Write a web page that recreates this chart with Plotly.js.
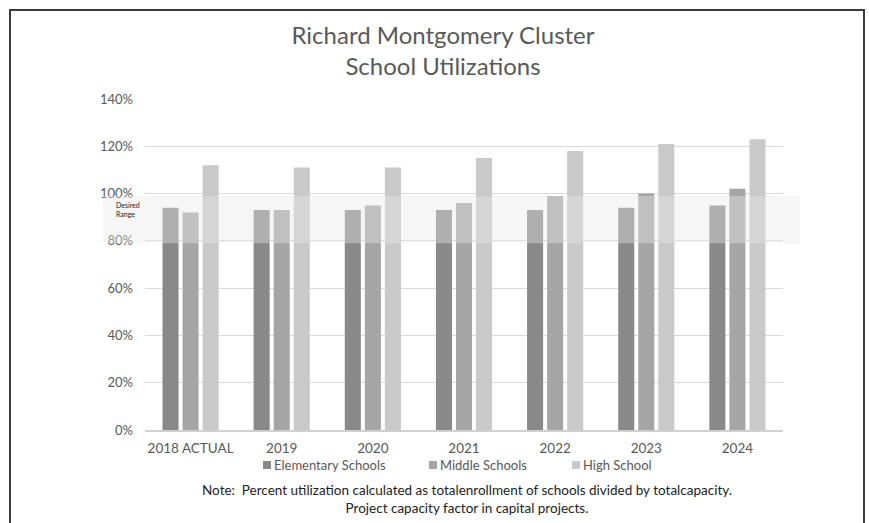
<!DOCTYPE html>
<html>
<head>
<meta charset="utf-8">
<script src="https://cdn.plot.ly/plotly-3.0.1.min.js"></script>
<style>
html,body{margin:0;padding:0;background:#fff;}
#wrap{position:relative;width:869px;height:523px;overflow:hidden;}
#chart{width:869px;height:523px;}
#frame{position:absolute;left:9px;top:9px;width:856px;height:530px;border:2px solid #3c3c3c;box-sizing:border-box;pointer-events:none;}
</style>
</head>
<body>
<div id="wrap"><div id="chart"></div><div id="frame"></div></div>
<script>
const categories = ["2018 ACTUAL","2019","2020","2021","2022","2023","2024"];
const seriesNames = ["Elementary Schools","Middle Schools","High School"];
const elementary = [94, 93, 93, 93, 93, 94, 95];
const middle = [92, 93, 95, 96, 99, 100, 102];
const high = [112, 111, 111, 115, 118, 121, 123];
const desiredRange = [79, 99];
const yTicks = [0, 20, 40, 60, 80, 100, 120, 140];

const colors = ["#898989", "#a5a5a5", "#c9c9c9"];
const font = "Lato, 'Open Sans', sans-serif";
const seriesValues = [elementary, middle, high];
const traces = seriesValues.map((vals, i) => ({
  type:"bar", name:seriesNames[i], x:categories, y:vals, marker:{color:colors[i]}
}));

// legend keys drawn as small squares + text (pixel -> paper helpers)
const L = 145, W = 638, B = 430, H = 331;
const px = p => (p - L) / W;
const py = p => (B - p) / H;
const legendX = [263, 429, 572];
const legendShapes = legendX.map((x, i) => ({
  type:"rect", xref:"paper", yref:"paper", x0:px(x), x1:px(x+8), y0:py(461), y1:py(469),
  fillcolor:colors[i], line:{width:0}, layer:"above"
}));
const legendAnn = legendX.map((x, i) => ({
  text:seriesNames[i], xref:"paper", yref:"paper", x:px(x+10), y:py(465), xanchor:"left", yanchor:"middle",
  showarrow:false, borderpad:0, font:{family:font, size:13, color:"#595959"}
}));

const layout = {
  width:869, height:523,
  margin:{l:L, r:869-L-W, t:B-H, b:523-B},
  paper_bgcolor:"#fff", plot_bgcolor:"#fff",
  font:{family:font, color:"#595959", size:13},
  title:{text:"Richard Montgomery Cluster<br>School Utilizations", x:443/869, xref:"container", xanchor:"center",
         y:0.916, yref:"container", yanchor:"top", font:{family:font, size:24, color:"#595959"}},
  barmode:"group", bargap:0.34, bargroupgap:0.2,
  xaxis:{type:"category", showgrid:false, showline:true, linecolor:"#d0d0d0", linewidth:1.5, ticks:"",
         ticklabelstandoff:5, tickfont:{size:13.5, color:"#595959"}, fixedrange:true},
  yaxis:{range:[0,140], tickvals:yTicks, ticktext:yTicks.map(v=>v+"%"), showgrid:true, gridcolor:"#d9d9d9", gridwidth:1,
         zeroline:false, showline:false, ticks:"", ticklabelstandoff:11, tickfont:{size:13, color:"#595959"}},
  showlegend:false,
  shapes:[{type:"rect", xref:"paper", yref:"y", x0:px(103), x1:px(800), y0:desiredRange[0], y1:desiredRange[1],
           fillcolor:"rgba(232,232,232,0.4)", line:{width:0}, layer:"above"}].concat(legendShapes),
  annotations:[
    {text:"Desired<br>Range", xref:"paper", yref:"y", x:px(115), y:97.1, xanchor:"left", yanchor:"top", showarrow:false,
     align:"left", borderpad:0, font:{family:font, size:7, color:"#222"}},
    {text:"Note:  Percent utilization calculated as totalenrollment of schools divided by totalcapacity.<br>Project capacity factor in capital projects.",
     xref:"paper", yref:"paper", x:px(467), y:py(481), xanchor:"center", yanchor:"top", showarrow:false, align:"center",
     borderpad:0, font:{family:font, size:13.5, color:"#222"}}
  ].concat(legendAnn)
};
Plotly.newPlot("chart", traces, layout, {displayModeBar:false, staticPlot:true});
</script>
</body>
</html>
